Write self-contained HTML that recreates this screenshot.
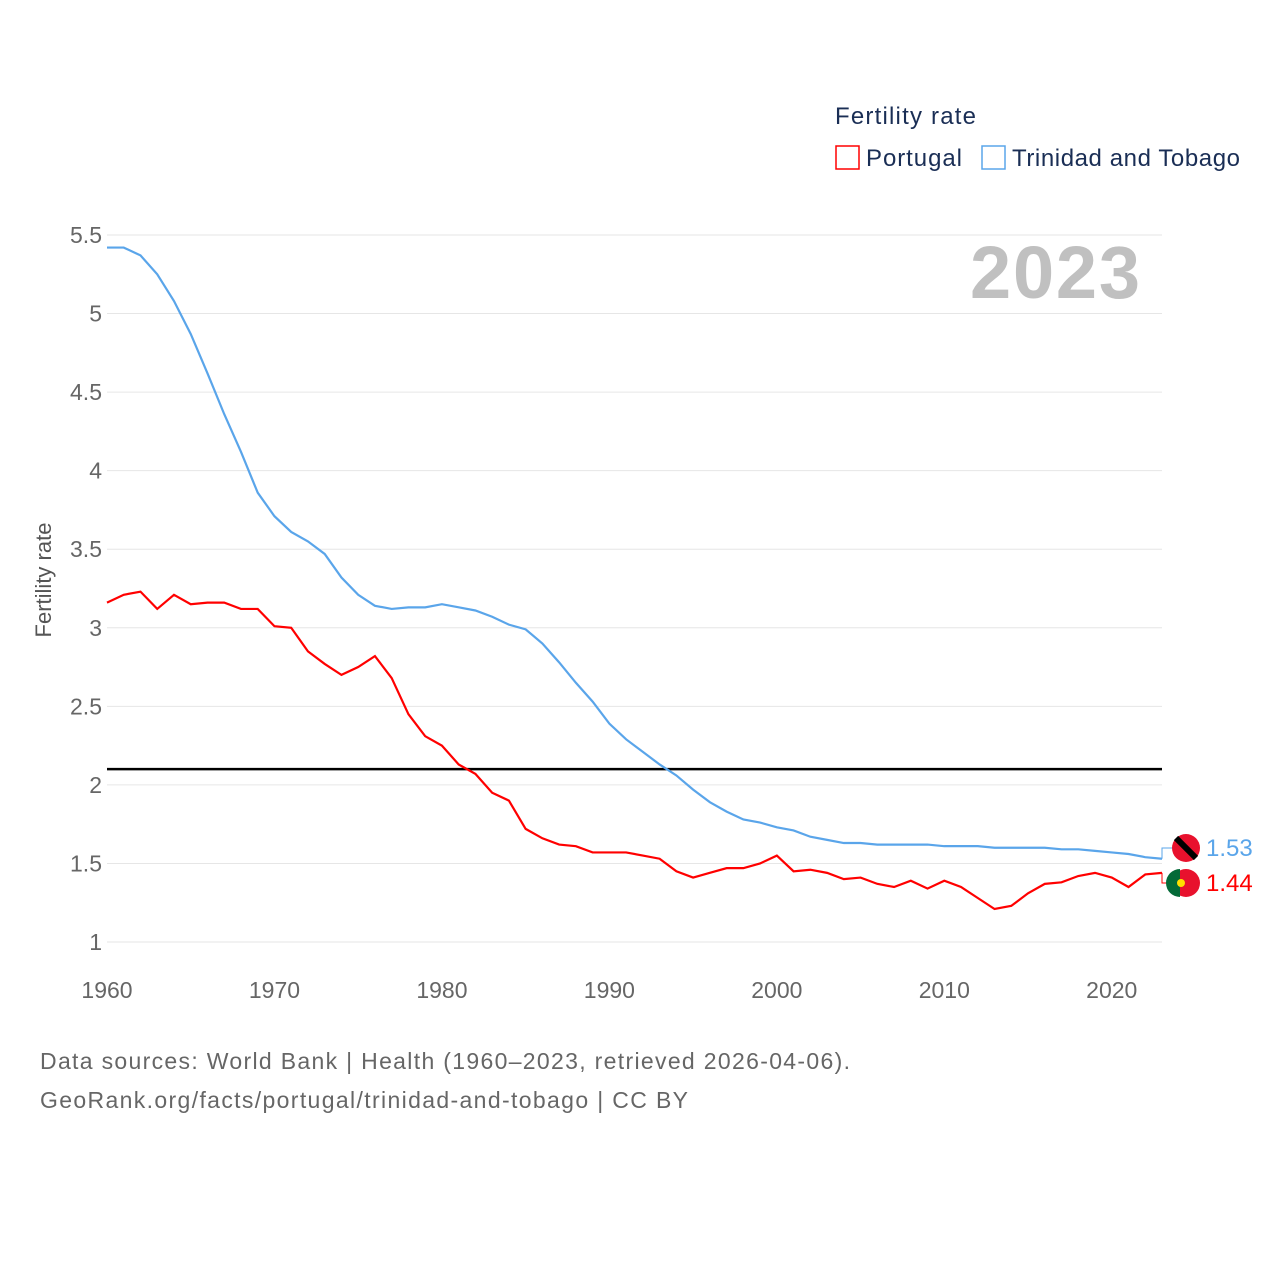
<!DOCTYPE html>
<html><head><meta charset="utf-8"><style>
body{margin:0;background:#fff;width:1280px;height:1280px;overflow:hidden;font-family:"Liberation Sans",sans-serif}
svg text{font-family:"Liberation Sans",sans-serif}
</style></head><body>
<svg id="c" width="1280" height="1280">
<text x="835" y="124" font-size="24" fill="#1a2e55" textLength="141">Fertility rate</text>
<rect x="836" y="146" width="23" height="23" fill="none" stroke="#f00" stroke-width="1.5"/>
<text x="866" y="166" font-size="24" fill="#1a2e55" textLength="96">Portugal</text>
<rect x="982" y="146" width="23" height="23" fill="none" stroke="#5aa5ea" stroke-width="1.5"/>
<text x="1012" y="166" font-size="24" fill="#1a2e55" textLength="228">Trinidad and Tobago</text>
<text x="1140" y="298" font-size="74" font-weight="bold" fill="#c0c0c0" text-anchor="end" textLength="170">2023</text>
<text transform="translate(51,580) rotate(-90)" font-size="22" fill="#555" text-anchor="middle">Fertility rate</text>
<g id="grid"></g><g id="series"></g>
<text x="40" y="1069" font-size="23" fill="#666" textLength="810">Data sources: World Bank | Health (1960–2023, retrieved 2026-04-06).</text>
<text x="40" y="1108" font-size="23" fill="#666" textLength="648">GeoRank.org/facts/portugal/trinidad-and-tobago | CC BY</text>
</svg>
<script>
const years=[];for(let y=1960;y<=2023;y++)years.push(y);
const portugal=[3.16,3.21,3.23,3.12,3.21,3.15,3.16,3.16,3.12,3.12,3.01,3.00,2.85,2.77,2.70,2.75,2.82,2.68,2.45,2.31,2.25,2.13,2.07,1.95,1.90,1.72,1.66,1.62,1.61,1.57,1.57,1.57,1.55,1.53,1.45,1.41,1.44,1.47,1.47,1.50,1.55,1.45,1.46,1.44,1.40,1.41,1.37,1.35,1.39,1.34,1.39,1.35,1.28,1.21,1.23,1.31,1.37,1.38,1.42,1.44,1.41,1.35,1.43,1.44];
const trinidad=[5.42,5.42,5.37,5.25,5.08,4.87,4.62,4.36,4.12,3.86,3.71,3.61,3.55,3.47,3.32,3.21,3.14,3.12,3.13,3.13,3.15,3.13,3.11,3.07,3.02,2.99,2.90,2.78,2.65,2.53,2.39,2.29,2.21,2.13,2.06,1.97,1.89,1.83,1.78,1.76,1.73,1.71,1.67,1.65,1.63,1.63,1.62,1.62,1.62,1.62,1.61,1.61,1.61,1.60,1.60,1.60,1.60,1.59,1.59,1.58,1.57,1.56,1.54,1.53];
const yTicks=[1,1.5,2,2.5,3,3.5,4,4.5,5,5.5];
const xTicks=[1960,1970,1980,1990,2000,2010,2020];
const replacement=2.1;
const X=y=>107+(y-1960)*(1162-107)/63;
const Y=v=>942-(v-1)*(942-235)/4.5;
const NS="http://www.w3.org/2000/svg";
function mk(t,a,p){const e=document.createElementNS(NS,t);for(const k in a)e.setAttribute(k,a[k]);p.appendChild(e);return e;}
const g=document.getElementById('grid'),s=document.getElementById('series');
yTicks.forEach(v=>{
 const l=mk('line',{x1:107,x2:1162,y1:Y(v),y2:Y(v),stroke:'#e6e6e6','stroke-width':1},g);
 
 
 const t=mk('text',{x:102,y:Y(v)+8,'font-size':23,fill:'#666','text-anchor':'end'},g);t.textContent=v;
 
 
});
xTicks.forEach(v=>{
 const t=mk('text',{x:X(v),y:998,'font-size':23,fill:'#666','text-anchor':'middle'},g);t.textContent=v;
 
 
});
const rl=mk('line',{x1:107,x2:1162,y1:Y(replacement),y2:Y(replacement),stroke:'#000','stroke-width':2.5},s);


function line(d,c,n){
 const p=mk('polyline',{points:d.map((v,i)=>X(years[i])+','+Y(v)).join(' '),fill:'none',stroke:c,'stroke-width':2.2},s);
 
 
}
line(trinidad,'#5aa5ea','line-trinidad');
line(portugal,'#f00','line-portugal');
function end(d,c,ly,n){
 const v=d[d.length-1],x=X(2023),y=Y(v);
 mk('polyline',{points:`${x},${y} ${x},${ly} ${x+10},${ly}`,fill:'none',stroke:c,'stroke-width':1},s);
 const f=mk('circle',{cx:1186,cy:ly,r:14,fill:'#e8112d'},s);
 
 
 const t=mk('text',{x:1206,y:ly+8,'font-size':24,fill:c},s);t.textContent=v.toFixed(2);
 
 
}
end(trinidad,'#5aa5ea',848,'trinidad');
mk('line',{x1:1176,y1:838,x2:1196,y2:858,stroke:'#000','stroke-width':6},s);
end(portugal,'#f00',883,'portugal');
mk('path',{d:'M1180,869 A14,14 0 0 0 1180,897 Z',fill:'#046a38'},s);
mk('circle',{cx:1181,cy:883,r:4,fill:'#ffe000'},s);
</script>
</body></html>
